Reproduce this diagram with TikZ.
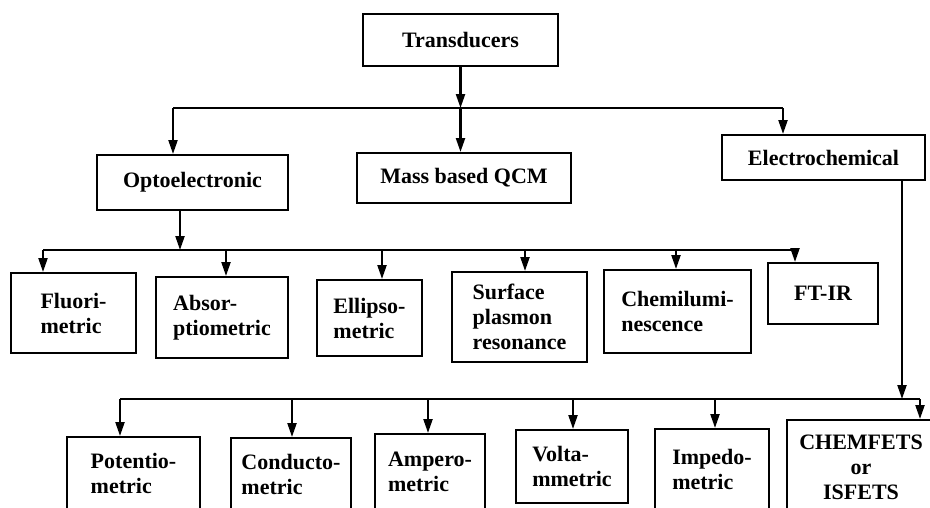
\documentclass[tikz,border=0pt]{standalone}
\usepackage{fontspec}
\setmainfont{Liberation Serif}
\usetikzlibrary{arrows.meta}
\begin{document}
\begin{tikzpicture}[x=1pt,y=-1pt,
  bx/.style={draw=black, line width=2pt, inner sep=0pt, align=left,
    font=\fontsize{22}{25}\selectfont\bfseries},
  ln/.style={line width=2.2pt},
  ar/.style={line width=2.2pt, -{Triangle[length=14pt,width=9pt]}}]
\useasboundingbox (0,0) rectangle (930,507);
\clip (0,0) rectangle (930,507);
% top level
\node[bx, minimum width=195, minimum height=52] (trans) at (460.5,40) {Transducers};
\node[bx, minimum width=191, minimum height=55] (opto) at (192.5,182.5) {Optoelectronic};
\node[bx, minimum width=214, minimum height=50] (qcm) at (464,178) {Mass based QCM};
\node[bx, minimum width=203, minimum height=45] (elec) at (823.5,157.5) {Electrochemical};
% optical row
\node[bx, minimum width=125, minimum height=80] (fluo) at (73.5,313) {Fluori-\\metric};
\node[bx, minimum width=132, minimum height=81] (abs) at (222,317.5) {Absor-\\ptiometric};
\node[bx, minimum width=105, minimum height=76] (ell) at (369.5,318) {Ellipso-\\metric};
\node[bx, minimum width=135, minimum height=90] (spr) at (519.5,317) {Surface\\plasmon\\resonance};
\node[bx, minimum width=147, minimum height=83] (chem) at (677.5,311.5) {Chemilumi-\\nescence};
\node[bx, minimum width=110, minimum height=61] (ftir) at (823,293.5) {FT-IR};
% electrochemical row
\node[bx, minimum width=133, minimum height=73] (pot) at (133.5,473.5) {Potentio-\\metric};
\node[bx, minimum width=120, minimum height=72] (cond) at (291,474) {Conducto-\\metric};
\node[bx, minimum width=110, minimum height=76] (amp) at (430,472) {Ampero-\\metric};
\node[bx, minimum width=112, minimum height=73] (volt) at (572,466.5) {Volta-\\mmetric};
\node[bx, minimum width=114, minimum height=81] (imp) at (712,469.5) {Impedo-\\metric};
\node[bx, minimum width=148, minimum height=95, align=center] (fet) at (861,467.5) {CHEMFETS\\or\\ISFETS};
% bus 1
\coordinate (b1L) at (173,108);
\coordinate (b1R) at (783,108);
\coordinate (b1M) at (460.5,108);
\draw[ln] (b1L) -- (b1R);
\draw[ar] (trans.south) -- (b1M);
\draw[ar] (b1M) -- (b1M |- qcm.north);
\draw[ar] (b1L) -- (b1L |- opto.north);
\draw[ar] (b1R) -- (b1R |- elec.north);
% bus 2
\coordinate (b2L) at (43,250);
\coordinate (b2R) at (795,250);
\coordinate (o2) at (180,250);
\draw[ln] (b2L) -- (b2R);
\draw[ar] (o2 |- opto.south) -- (o2);
\coordinate (d1) at (43,250);
\coordinate (d2) at (226,250);
\coordinate (d3) at (382,250);
\coordinate (d4) at (525,250);
\coordinate (d5) at (676,250);
\coordinate (d6) at (795,250);
\draw[ar] (d1) -- (d1 |- fluo.north);
\draw[ar] (d2) -- (d2 |- abs.north);
\draw[ar] (d3) -- (d3 |- ell.north);
\draw[ar] (d4) -- (d4 |- spr.north);
\draw[ar] (d5) -- (d5 |- chem.north);
\draw[ar] (d6) -- (d6 |- ftir.north);
% bus 3
\coordinate (c1) at (120,399);
\coordinate (c2) at (292,399);
\coordinate (c3) at (428,399);
\coordinate (c4) at (573,399);
\coordinate (c5) at (715,399);
\coordinate (c6) at (920,399);
\coordinate (e3) at (902,399);
\draw[ln] (c1) -- (c6);
\draw[ar] (e3 |- elec.south) -- (e3);
\draw[ar] (c1) -- (c1 |- pot.north);
\draw[ar] (c2) -- (c2 |- cond.north);
\draw[ar] (c3) -- (c3 |- amp.north);
\draw[ar] (c4) -- (c4 |- volt.north);
\draw[ar] (c5) -- (c5 |- imp.north);
\draw[ar] (c6) -- (c6 |- fet.north);
\end{tikzpicture}
\end{document}
